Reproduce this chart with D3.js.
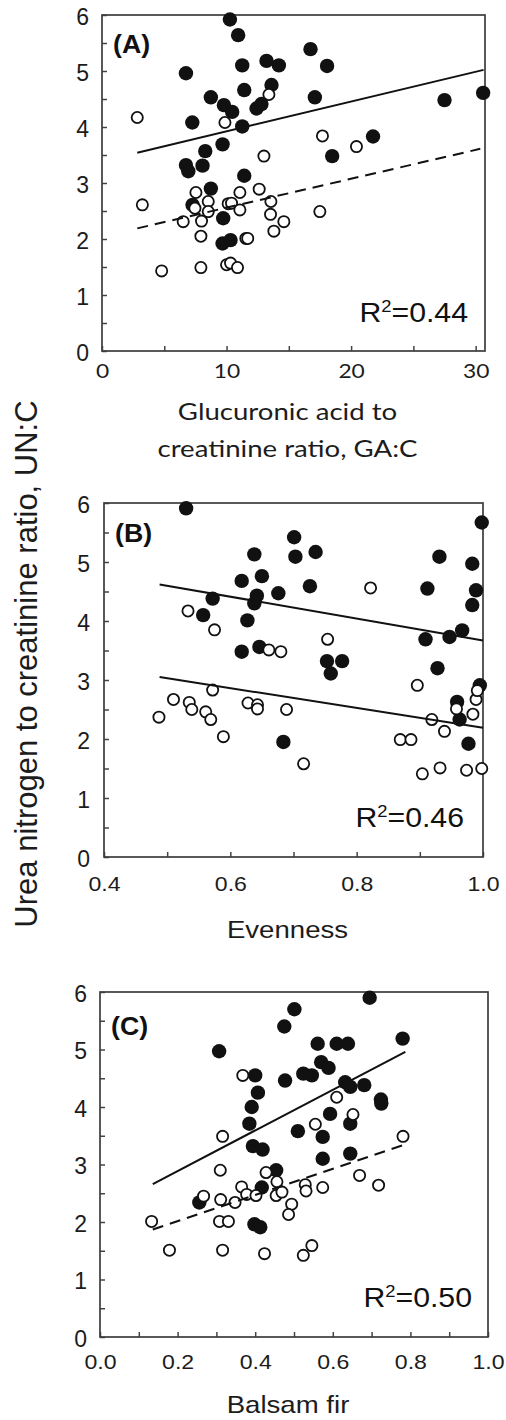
<!DOCTYPE html>
<html>
<head>
<meta charset="utf-8">
<script src="https://cdn.jsdelivr.net/npm/d3@7"></script>
<style>
body { margin: 0; background: #fff; }
svg { display: block; }
</style>
</head>
<body>
<script>
// ---- data: [x, UN:C] ----
// (A) glucuronic acid : creatinine
let aFilled = [[10.27,5.92],[10.93,5.64],[6.74,4.96],[11.26,5.10],[13.21,5.18],[14.2,5.10],[16.74,5.39],[18.07,5.09],
    [11.42,4.66],[13.61,4.75],[8.74,4.53],[17.09,4.53],[9.79,4.39],[10.45,4.27],[12.41,4.33],[12.8,4.41],[7.25,4.08],
    [11.26,4.01],[27.5,4.48],[30.6,4.61],[21.76,3.83],[9.68,3.69],[8.29,3.57],[18.48,3.48],[6.74,3.32],[6.93,3.21],
    [8.07,3.31],[11.42,3.13],[8.74,2.90],[7.27,2.61],[9.73,2.37],[9.68,1.92],[10.32,1.98]];
let aOpen = [[2.83,4.17],[3.24,2.61],[4.79,1.43],[6.52,2.31],[7.54,2.83],[7.46,2.55],[7.99,2.32],[7.94,2.05],[7.94,1.49],
    [8.53,2.67],[8.53,2.49],[9.87,4.08],[10.13,2.63],[10.4,2.64],[10.0,1.54],[10.32,1.57],[10.88,1.49],[11.07,2.83],
    [11.07,2.52],[11.55,2.01],[11.7,2.01],[12.62,2.89],[13.0,3.48],[13.4,4.58],[13.56,2.67],[13.53,2.44],[13.8,2.14],
    [14.6,2.31],[17.49,2.49],[17.7,3.84],[20.43,3.65]];
let aSolid = [[2.83,3.54],[30.64,5.02]];
let aDashed = [[2.83,2.19],[30.37,3.61]];

// (B) evenness
let bFilled = [[0.530,5.91],[0.998,5.67],[0.701,5.42],[0.703,5.09],[0.735,5.17],[0.638,5.13],[0.618,4.68],[0.650,4.76],
    [0.642,4.43],[0.638,4.30],[0.676,4.47],[0.726,4.59],[0.572,4.38],[0.557,4.10],[0.627,4.01],[0.618,3.48],[0.646,3.56],
    [0.753,3.32],[0.777,3.32],[0.759,3.11],[0.684,1.95],[0.931,5.09],[0.912,4.55],[0.983,4.97],[0.989,4.52],[0.983,4.27],
    [0.909,3.69],[0.947,3.73],[0.967,3.84],[0.928,3.20],[0.995,2.91],[0.959,2.63],[0.963,2.33],[0.977,1.92]];
let bOpen = [[0.487,2.37],[0.510,2.67],[0.533,4.17],[0.535,2.62],[0.539,2.50],[0.561,2.46],[0.569,2.33],[0.572,2.83],
    [0.575,3.85],[0.589,2.04],[0.628,2.61],[0.643,2.58],[0.643,2.51],[0.661,3.51],[0.680,3.48],[0.689,2.50],[0.716,1.58],
    [0.754,3.69],[0.822,4.56],[0.869,1.99],[0.886,1.99],[0.896,2.91],[0.904,1.41],[0.919,2.33],[0.932,1.51],[0.939,2.13],
    [0.958,2.51],[0.974,1.47],[0.984,2.42],[0.989,2.67],[0.991,2.82],[0.998,1.50]];
let bUpper = [[0.488,4.62],[1.0,3.67]];
let bLower = [[0.488,3.05],[1.0,2.19]];

// (C) balsam fir
let cFilled = [[0.695,5.90],[0.501,5.70],[0.475,5.40],[0.307,4.97],[0.780,5.19],[0.561,5.10],[0.610,5.10],[0.639,5.10],
    [0.570,4.78],[0.589,4.68],[0.400,4.55],[0.524,4.58],[0.546,4.55],[0.477,4.46],[0.407,4.25],[0.632,4.43],[0.645,4.35],
    [0.681,4.38],[0.724,4.13],[0.725,4.06],[0.391,4.00],[0.593,3.88],[0.385,3.71],[0.645,3.71],[0.510,3.58],[0.574,3.48],
    [0.394,3.32],[0.419,3.26],[0.574,3.10],[0.645,3.19],[0.454,2.90],[0.417,2.60],[0.256,2.34],[0.398,1.96],[0.413,1.91]];
let cOpen = [[0.368,4.55],[0.316,3.49],[0.310,2.90],[0.610,4.17],[0.652,3.87],[0.555,3.70],[0.781,3.49],[0.669,2.81],
    [0.718,2.64],[0.428,2.86],[0.456,2.70],[0.529,2.65],[0.531,2.54],[0.574,2.60],[0.365,2.61],[0.378,2.48],[0.402,2.46],
    [0.454,2.46],[0.469,2.52],[0.267,2.45],[0.311,2.39],[0.348,2.34],[0.494,2.31],[0.486,2.13],[0.133,2.01],[0.308,2.01],
    [0.331,2.01],[0.179,1.51],[0.316,1.51],[0.424,1.45],[0.524,1.42],[0.546,1.59]];
let cSolid = [[0.136,2.66],[0.787,4.96]];
let cDashed = [[0.136,1.87],[0.787,3.35]];

// tick labels and texts
let yTickLabels = [0, 1, 2, 3, 4, 5, 6];
let aXTickLabels = [0, 10, 20, 30];
let bXTickLabels = [0.4, 0.6, 0.8, 1.0];
let cXTickLabels = [0.0, 0.2, 0.4, 0.6, 0.8, 1.0];
let panelNames = ["(A)", "(B)", "(C)"];
let rSquared = ["0.44", "0.46", "0.50"];
let xTitles = [["Glucuronic acid to", "creatinine ratio, GA:C"], ["Evenness"], ["Balsam fir"]];
let yTitle = "Urea nitrogen to creatinine ratio, UN:C";

let sans = "'Liberation Sans', Arial, sans-serif";
let calib = "Lato, 'Open Sans', sans-serif";

let svg = d3.select("body").append("svg")
    .attr("width", 506)
    .attr("height", 1420);

// the x lettering in the original is a bit wide, hence the stretch values
let panels = [
    {left: 102, right: 485, top: 15, bottom: 351, xDomain: [0, 30.75], minor: 5, fmt: d3.format("d"),
     xLabels: aXTickLabels, xFont: calib, xFontSize: 20, xStretch: 1.14, xPad: 13, yPad: 13,
     filled: aFilled, open: aOpen, lines: [[aSolid, null], [aDashed, "11,7"]],
     titleY: [420, 457], titleFont: calib, titleSize: 23, titleStretch: 1.2, nameY: 53, rRight: 468, rY: 322},
    {left: 104, right: 483, top: 503, bottom: 857, xDomain: [0.4, 1.0], minor: 0.1, fmt: d3.format(".1f"),
     xLabels: bXTickLabels, xFont: sans, xFontSize: 21, xStretch: 1.1, xPad: 19, yPad: 14,
     filled: bFilled, open: bOpen, lines: [[bUpper, null], [bLower, null]],
     titleY: [938], titleFont: sans, titleSize: 24, titleStretch: 1.15, nameY: 542, rRight: 464, rY: 827},
    {left: 100, right: 488, top: 992, bottom: 1337, xDomain: [0, 1], minor: 0.1, fmt: d3.format(".1f"),
     xLabels: cXTickLabels, xFont: sans, xFontSize: 21, xStretch: 1.1, xPad: 17, yPad: 13,
     filled: cFilled, open: cOpen, lines: [[cSolid, null], [cDashed, "11,7"]],
     titleY: [1413], titleFont: sans, titleSize: 24, titleStretch: 1.15, nameY: 1035, rRight: 472, rY: 1307}
];

panels.forEach(function(p, i) {
    let x = d3.scaleLinear().domain(p.xDomain).range([p.left, p.right]);
    let y = d3.scaleLinear().domain([0, 6]).range([p.bottom, p.top]);
    let g = svg.append("g");

    // minor + major tick positions
    let xTicks = d3.range(p.xDomain[0], p.xDomain[1] + 1e-9, p.minor).map(v => +v.toFixed(3));
    let labelSet = p.xLabels.map(v => +v.toFixed(3));
    let yTicks = d3.range(0, 6.01, 0.5);

    let xAxis = g.append("g")
        .attr("transform", "translate(0," + p.bottom + ")")
        .call(d3.axisBottom(x).tickValues(xTicks).tickSize(-5).tickPadding(p.xPad)
            .tickFormat(d => labelSet.indexOf(+d.toFixed(3)) >= 0 ? p.fmt(d) : ""));
    xAxis.selectAll("text")
        .style("font-family", p.xFont)
        .style("font-size", p.xFontSize + "px")
        .attr("transform", "scale(" + p.xStretch + ",1)")
        .attr("fill", "#1c1c1c");

    let yAxis = g.append("g")
        .attr("transform", "translate(" + p.left + ",0)")
        .call(d3.axisLeft(y).tickValues(yTicks).tickSize(-5).tickPadding(p.yPad)
            .tickFormat(d => yTickLabels.indexOf(d) >= 0 ? d : ""));
    yAxis.selectAll("text")
        .attr("y", 2)
        .style("font-family", sans)
        .style("font-size", "23px")
        .attr("fill", "#1c1c1c");

    g.selectAll(".domain").remove();
    g.selectAll(".tick line").attr("stroke", "#444").attr("stroke-width", 1.5);

    // frame
    g.append("rect")
        .attr("x", p.left)
        .attr("y", p.top)
        .attr("width", p.right - p.left)
        .attr("height", p.bottom - p.top)
        .attr("fill", "none")
        .attr("stroke", "#3c3c3c")
        .attr("stroke-width", 1.7);

    // points
    g.selectAll(".filled")
        .data(p.filled)
        .enter().append("circle")
        .attr("cx", d => x(d[0]))
        .attr("cy", d => y(d[1]))
        .attr("r", 7.2)
        .attr("fill", "#111");

    g.selectAll(".open")
        .data(p.open)
        .enter().append("circle")
        .attr("cx", d => x(d[0]))
        .attr("cy", d => y(d[1]))
        .attr("r", 5.6)
        .attr("fill", "#fff")
        .attr("stroke", "#111")
        .attr("stroke-width", 1.8);

    // regression lines
    let line = d3.line().x(d => x(d[0])).y(d => y(d[1]));
    p.lines.forEach(function(l) {
        g.append("path")
            .attr("d", line(l[0]))
            .attr("fill", "none")
            .attr("stroke", "#111")
            .attr("stroke-width", 2)
            .attr("stroke-dasharray", l[1]);
    });

    // panel name
    g.append("text")
        .attr("transform", "translate(" + (p.left + 11) + "," + p.nameY + ") scale(1.07,1)")
        .style("font-family", sans)
        .style("font-weight", "bold")
        .style("font-size", "25px")
        .attr("fill", "#111")
        .text(panelNames[i]);

    // R^2
    let r = g.append("text")
        .attr("transform", "translate(" + p.rRight + "," + p.rY + ") scale(1.08,1)")
        .attr("text-anchor", "end")
        .style("font-family", sans)
        .style("font-size", "28px")
        .attr("fill", "#111");
    r.append("tspan").text("R");
    r.append("tspan").attr("dy", -10).style("font-size", "17px").text("2");
    r.append("tspan").attr("dy", 10).text("=" + rSquared[i]);

    // x title
    let cx = (p.left + p.right) / 2 - 6;
    xTitles[i].forEach(function(t, j) {
        g.append("text")
            .attr("transform", "translate(" + cx + "," + p.titleY[j] + ") scale(" + p.titleStretch + ",1)")
            .attr("text-anchor", "middle")
            .style("font-family", p.titleFont)
            .style("font-size", p.titleSize + "px")
            .attr("fill", "#1c1c1c")
            .text(t);
    });
});

// shared y title
svg.append("text")
    .attr("transform", "translate(37,664) rotate(-90)")
    .attr("text-anchor", "middle")
    .style("font-family", sans)
    .style("font-size", "31px")
    .attr("fill", "#1c1c1c")
    .text(yTitle);
</script>
</body>
</html>
